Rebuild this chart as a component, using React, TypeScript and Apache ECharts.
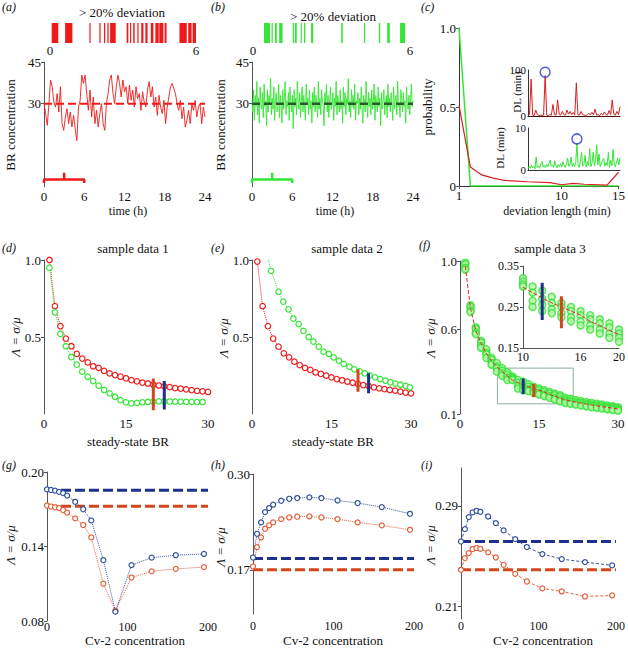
import { useEffect, useRef } from 'react';
import * as echarts from 'echarts';

const FONT = "'Liberation Serif', serif";

// ---------- (a) / (b) BR time series ----------
const timeSpanHours = 24;
const redBR = [
  30.0, 26.4, 22.2, 30.0, 38.5, 36.1, 30.6, 28.8, 33.6, 27.0,
  36.1, 22.8, 20.4, 25.2, 28.2, 22.8, 27.0, 21.6, 25.8, 21.0,
  16.7, 28.8, 31.2, 40.3, 37.3, 40.3, 33.6, 27.6, 34.9, 25.2,
  32.4, 22.8, 27.6, 21.6, 26.4, 30.0, 22.8, 20.4, 30.0, 33.6,
  38.5, 40.3, 33.6, 30.0, 36.1, 40.3, 37.3, 32.4, 38.5, 34.3,
  36.1, 30.0, 36.7, 31.2, 34.9, 28.8, 36.1, 31.8, 33.6, 27.6,
  34.3, 30.6, 28.8, 34.9, 37.9, 32.4, 36.1, 28.8, 32.4, 25.8,
  33.0, 28.8, 26.4, 31.2, 22.8, 28.8, 32.4, 36.1, 37.3, 35.5,
  33.6, 30.0, 27.6, 31.2, 24.6, 28.8, 21.6, 24.0, 27.6, 22.8,
  30.0, 27.6, 31.2, 25.2, 28.8, 30.0, 22.8, 28.8, 25.2,
];
const greenBR = [
  31, 27, 35, 24, 33, 29, 38, 26, 32, 23, 36, 30, 28, 34, 25, 37, 29, 31, 22, 35,
  27, 33, 30, 39, 26, 32, 28, 36, 24, 31, 34, 27, 29, 37, 25, 33, 30, 23, 35, 28,
  32, 38, 26, 31, 29, 34, 24, 36, 30, 27, 33, 21, 35, 29, 32, 26, 38, 30, 28, 34,
  25, 31, 36, 27, 33, 29, 24, 37, 30, 32, 26, 35, 28, 31, 23, 34, 29, 36, 27, 33,
  30, 25, 38, 28, 32, 26, 35, 31, 29, 22, 34, 30, 37, 27, 33, 25, 31, 36, 28, 30,
  34, 24, 32, 29, 38, 26, 33, 30, 27, 35, 28, 31, 23, 36, 29, 34, 26, 32, 30, 39,
  27, 31, 25, 35, 29, 33, 28, 37, 24, 31, 30, 34, 26, 32, 28, 36, 29, 23, 33, 31,
  27, 38, 30, 25, 34, 29, 32, 26, 35, 28, 31, 37, 24, 33, 30, 27, 36, 29, 32, 22,
  34, 28, 31, 35, 26, 30, 33, 25, 37, 29, 32, 27, 34, 30, 24, 36, 28, 31, 33, 26,
  38, 29, 30, 25, 35, 32, 27, 34, 29, 31, 23, 36, 30, 28, 33, 26, 32, 37, 29, 31,
];
const meanBR = 30;
// deviation episodes (> 20 %) within the first 6 h
const redDeviation = [
  [0.07, 0.34], [0.62, 0.92], [1.62, 1.65], [2.03, 2.08], [2.22, 2.27], [2.36, 2.41],
  [2.47, 2.7], [3.15, 3.22], [3.29, 3.34], [3.42, 3.48], [3.59, 3.63], [3.75, 3.84],
  [3.92, 4.01], [4.14, 4.25], [4.33, 4.47], [4.49, 4.66], [4.71, 4.79], [5.32, 5.62],
  [5.68, 5.82], [5.86, 6.0],
];
const greenDeviation = [
  [0.42, 0.65], [0.71, 0.75], [0.84, 0.91], [1.0, 1.13], [1.52, 1.55], [1.6, 1.67],
  [1.82, 1.86], [1.95, 2.0], [2.22, 2.3], [3.37, 3.43], [4.24, 4.28], [4.81, 4.86],
  [5.13, 5.23], [5.62, 5.81],
];
const windowBracket = [[0, 1.4], [0, 2.7], [3, 2.7], [3, 5.1], [3, 2.7], [6, 2.7], [6, 1.4]];

// ---------- (c) deviation length ----------
const devLenRedX = [1, 2, 3, 4, 5, 7, 9, 10, 11, 12, 14, 15];
const probRed = [0.51, 0.12, 0.07, 0.05, 0.035, 0.027, 0.021, 0.008, 0.017, 0.011, 0.006, 0.087];
const devLenGreenX = [1, 2, 15];
const probGreen = [1.0, 0, 0];
const dlRed = [
  2, 3, 80, 2, 1, 13, 3, 1, 2, 1, 2, 88, 2, 1, 3, 2, 25, 3, 2, 35,
  4, 2, 10, 3, 2, 13, 4, 10, 3, 8, 2, 72, 3, 2, 10, 3, 2, 1, 3, 6,
  2, 8, 3, 15, 2, 3, 1, 6, 2, 9, 3, 2, 12, 3, 35, 4, 2, 10, 3, 20,
];
const dlGreen = [
  0.3, 0.8, 0.4, 1.2, 0.5, 0.9, 0.3, 3.1, 0.6, 1.0, 0.4, 1.3, 2.0, 0.7, 1.1, 0.5, 1.4, 0.8, 1.6, 2.4,
  0.9, 1.2, 0.6, 2.2, 1.0, 0.5, 1.3, 0.8, 1.5, 0.7, 2.0, 1.1, 0.6, 1.4, 2.8, 0.9, 1.2, 3.1, 0.7, 1.5,
  0.8, 1.8, 6.4, 1.0, 0.6, 2.1, 4.2, 0.9, 1.3, 3.5, 0.7, 2.0, 1.1, 5.1, 0.8, 1.6, 4.3, 1.0, 2.2, 6.0,
  1.2, 3.8, 0.8, 1.5, 2.4, 2.8, 0.9, 1.7, 1.1, 4.2, 0.6, 2.3, 1.0, 4.9, 1.4, 0.8, 1.9, 2.8, 1.2, 2.9,
];
const dlRedCircle = [11, 95];
const dlGreenCircle = [42, 7.4];

// ---------- (d) sample data 1 ----------
const dRedX = [1, 2, 3, 4, 5, 6, 7, 8, 9, 10, 11, 12, 13, 14, 15, 16, 17, 18, 19, 20, 21, 22, 23, 24, 25, 26, 27, 28, 29, 30];
const dRed = [1.0, 0.7, 0.57, 0.49, 0.44, 0.39, 0.36, 0.335, 0.31, 0.3, 0.28, 0.264, 0.253, 0.242, 0.232, 0.22, 0.212, 0.204, 0.198, 0.19, 0.185, 0.18, 0.175, 0.168, 0.165, 0.16, 0.155, 0.15, 0.147, 0.143];
const dGreenX = [1, 2, 3, 4, 5, 6, 7, 8, 9, 10, 11, 12, 13, 14, 15, 16, 17, 18, 19, 20, 21, 22, 23, 24, 25, 26, 27, 28, 29];
const dGreen = [0.95, 0.66, 0.52, 0.44, 0.37, 0.32, 0.275, 0.242, 0.214, 0.184, 0.156, 0.134, 0.112, 0.09, 0.076, 0.069, 0.072, 0.076, 0.078, 0.08, 0.082, 0.082, 0.081, 0.08, 0.08, 0.079, 0.079, 0.078, 0.078];
const dMarkRed = [20, 0.025, 0.23];
const dMarkBlue = [22, 0.03, 0.215];

// ---------- (e) sample data 2 ----------
const eRedX = dRedX;
const eRed = [0.99, 0.7, 0.57, 0.49, 0.437, 0.394, 0.368, 0.34, 0.318, 0.3, 0.286, 0.27, 0.26, 0.249, 0.238, 0.227, 0.219, 0.21, 0.203, 0.195, 0.188, 0.182, 0.173, 0.167, 0.162, 0.156, 0.152, 0.145, 0.139, 0.134];
const eGreenStart = [3.1, 1.0];
const eGreenX = [3.6, 5.0, 5.9, 6.9, 7.8, 8.8, 9.7, 10.7, 11.6, 12.6, 13.5, 14.5, 15.4, 16.4, 17.3, 18.4, 19.3, 20.3, 21.3, 22.2, 23.2, 24.2, 25.2, 26.1, 27.1, 28.0, 29.0, 29.8];
const eGreen = [0.93, 0.794, 0.73, 0.68, 0.62, 0.584, 0.54, 0.5, 0.47, 0.437, 0.405, 0.39, 0.368, 0.346, 0.325, 0.307, 0.29, 0.277, 0.264, 0.251, 0.238, 0.227, 0.216, 0.206, 0.197, 0.19, 0.182, 0.173];
const eMarkRed = [20, 0.145, 0.29];
const eMarkBlue = [22, 0.134, 0.264];

// ---------- (f) sample data 3 ----------
const fX = dRedX;
const fRed = [0.97, 0.72, 0.59, 0.515, 0.457, 0.412, 0.378, 0.349, 0.325, 0.298, 0.285, 0.272, 0.26, 0.25, 0.24, 0.23, 0.215, 0.205, 0.193, 0.183, 0.176, 0.17, 0.164, 0.158, 0.153, 0.148, 0.143, 0.139, 0.134, 0.13];
const fGreen = [
  [0.99, 0.98, 0.96, 0.95], [0.74, 0.73, 0.71, 0.7], [0.61, 0.6, 0.58, 0.57], [0.53, 0.52, 0.5, 0.49],
  [0.48, 0.46, 0.45, 0.43], [0.43, 0.42, 0.4, 0.39], [0.4, 0.38, 0.37, 0.35], [0.37, 0.355, 0.34, 0.325],
  [0.345, 0.33, 0.315, 0.3], [0.32, 0.312, 0.305, 0.3], [0.3, 0.285, 0.265, 0.25], [0.29, 0.27, 0.255, 0.24],
  [0.275, 0.26, 0.245, 0.235], [0.26, 0.25, 0.235, 0.225], [0.25, 0.24, 0.225, 0.215], [0.24, 0.23, 0.215, 0.205],
  [0.23, 0.22, 0.205, 0.195], [0.22, 0.21, 0.195, 0.185], [0.21, 0.2, 0.185, 0.175], [0.195, 0.185, 0.175, 0.165],
  [0.19, 0.18, 0.17, 0.16], [0.182, 0.172, 0.163, 0.155], [0.176, 0.166, 0.157, 0.15], [0.17, 0.16, 0.152, 0.145],
  [0.165, 0.155, 0.147, 0.14], [0.16, 0.15, 0.142, 0.136], [0.155, 0.146, 0.138, 0.132], [0.15, 0.142, 0.134, 0.128],
  [0.146, 0.138, 0.13, 0.124], [0.14, 0.133, 0.126, 0.12],
];
const fMarkBlue = [12, 0.218, 0.309];
const fMarkRed = [14, 0.198, 0.276];
const fZoomBox = [[7.1, 0.16], [21.5, 0.16], [21.5, 0.37], [7.1, 0.37], [7.1, 0.16]];
const fInsetRange = [10, 20];

// ---------- (g)(h)(i) Cv-2 ----------
const cvX = [0, 5, 10, 15, 20, 25, 35, 45, 55, 70, 85, 105, 130, 160, 195];
const refX = [0, 200];
const gBlue = [0.186, 0.1855, 0.185, 0.184, 0.183, 0.181, 0.176, 0.17, 0.161, 0.129, 0.0875, 0.125, 0.131, 0.133, 0.134];
const gRed = [0.173, 0.1722, 0.1716, 0.171, 0.1694, 0.1673, 0.1627, 0.1573, 0.1473, 0.11, 0.0883, 0.115, 0.12, 0.122, 0.1234];
const gBlueRef = 0.1854;
const gRedRef = 0.1724;
const hBlue = [0.1867, 0.2189, 0.2343, 0.2483, 0.2538, 0.2583, 0.2637, 0.2664, 0.2674, 0.2683, 0.2674, 0.2641, 0.2606, 0.2551, 0.246];
const hRed = [0.1745, 0.2008, 0.2139, 0.2257, 0.2302, 0.2343, 0.2388, 0.241, 0.242, 0.2424, 0.241, 0.2388, 0.2343, 0.2302, 0.2243];
const hBlueRef = 0.1853;
const hRedRef = 0.17;
const iBlue = [0.2616, 0.2714, 0.281, 0.2847, 0.286, 0.2852, 0.2815, 0.2762, 0.2704, 0.2635, 0.2572, 0.2516, 0.2476, 0.2452, 0.2426];
const iRed = [0.2391, 0.2484, 0.2524, 0.2556, 0.2564, 0.2558, 0.2529, 0.2489, 0.2431, 0.2359, 0.2298, 0.2243, 0.2219, 0.2179, 0.2187];
const iBlueRef = 0.2616;
const iRedRef = 0.2391;

// ---------- colours ----------
const RED = '#ee1a1a';
const GREEN = '#33e633';
const NAVY = '#1e318a';
const ORANGE = '#d2481e';
const CV_BLUE = '#34529e';
const CV_RED = '#e2603c';

const zip = (xs: number[], ys: number[]) => xs.map((x, i) => [x, ys[i]]);
const series1D = (ys: number[]) => ys.map((y, i) => [(i * timeSpanHours) / (ys.length - 1), y]);

type AxOpt = {
  min: number; max: number; vals?: number[]; fmt?: (v: number) => string;
  line?: boolean; ticks?: boolean; show?: boolean; margin?: number; size?: number; lineColor?: string;
};
const mkAxis = (gi: number, o: AxOpt) => ({
  type: 'value', gridIndex: gi, min: o.min, max: o.max, show: o.show !== false,
  splitLine: { show: false },
  axisLine: { show: !!o.line, onZero: false, lineStyle: { color: o.lineColor || '#555', width: 1 } },
  axisTick: o.vals && o.ticks
    ? { show: true, customValues: o.vals, length: 3, lineStyle: { color: '#555' } }
    : { show: false },
  axisLabel: o.vals
    ? {
        show: true, customValues: o.vals, formatter: o.fmt || ((v: number) => String(v)),
        margin: o.margin ?? 3, fontFamily: FONT, fontSize: o.size || 13, color: '#111',
      }
    : { show: false },
});

const f1 = (v: number) => Number(v).toFixed(1);
const f2 = (v: number) => Number(v).toFixed(2);

const line = (gi: number, data: any[], color: string, o: any = {}) => ({
  type: 'line', xAxisIndex: gi, yAxisIndex: gi, data, silent: true, clip: true,
  symbol: o.symbol || 'none', showSymbol: !!o.symbol, symbolSize: o.size ?? 6,
  lineStyle: { color, width: o.width ?? 1, type: o.type ?? 'solid' },
  itemStyle: { color: o.fill ?? '#ffffff', borderColor: color, borderWidth: o.bw ?? 1.2 },
  z: o.z ?? 2,
});

const stripSeries = (gi: number, intervals: number[][], color: string) => ({
  type: 'custom', xAxisIndex: gi, yAxisIndex: gi, silent: true, data: intervals,
  encode: { x: [0, 1] },
  renderItem: (_p: any, api: any) => {
    const a = api.coord([api.value(0), 1]);
    const b = api.coord([api.value(1), 0]);
    return {
      type: 'rect',
      shape: { x: a[0], y: a[1], width: Math.max(b[0] - a[0], 1.2), height: b[1] - a[1] },
      style: { fill: color },
    };
  },
});

const vbar = (gi: number, m: number[], color: string) => line(gi, [[m[0], m[1]], [m[0], m[2]]], color, { width: 3, z: 5 });

const txt = (text: string, x: number, y: number, o: any = {}) => ({
  type: 'text', x, y, rotation: o.rot ? Math.PI / 2 : 0, silent: true,
  style: {
    text, fontFamily: FONT, fontSize: o.size || 13, fontStyle: o.italic ? 'italic' : 'normal',
    fill: '#111', align: o.align || 'center', verticalAlign: 'middle',
    textAlign: o.align || 'center', textVerticalAlign: 'middle',
  },
});

export default function App() {
  const ref = useRef<HTMLDivElement>(null);
  useEffect(() => {
    if (!ref.current) return;
    const chart = echarts.init(ref.current, undefined, { renderer: 'svg' });

    const grids = [
      { left: 50, top: 23, width: 146, height: 20 }, // 0 a strip
      { left: 44, top: 62, width: 161, height: 125 }, // 1 a
      { left: 253, top: 23, width: 157, height: 20 }, // 2 b strip
      { left: 252, top: 62, width: 161, height: 125 }, // 3 b
      { left: 459, top: 28, width: 161, height: 158 }, // 4 c
      { left: 528, top: 70, width: 92, height: 46 }, // 5 c inset top
      { left: 528, top: 128, width: 92, height: 42 }, // 6 c inset bottom
      { left: 44, top: 260, width: 164, height: 154 }, // 7 d
      { left: 252, top: 260, width: 159, height: 154 }, // 8 e
      { left: 460, top: 261, width: 158, height: 153 }, // 9 f
      { left: 523, top: 266, width: 98, height: 82 }, // 10 f inset
      { left: 47, top: 472, width: 161, height: 149 }, // 11 g
      { left: 253, top: 474, width: 161, height: 140 }, // 12 h
      { left: 461, top: 468, width: 155, height: 151 }, // 13 i
    ];

    const xAxis = [
      mkAxis(0, { min: 0, max: 6, vals: [0, 6], margin: 1 }),
      mkAxis(1, { min: 0, max: 24, vals: [0, 6, 12, 18, 24] }),
      mkAxis(2, { min: 0, max: 6, vals: [0, 6], margin: 1 }),
      mkAxis(3, { min: 0, max: 24, vals: [0, 6, 12, 18, 24] }),
      mkAxis(4, { min: 1, max: 15, vals: [1, 10, 15], line: true, lineColor: '#333', ticks: true }),
      mkAxis(5, { min: 0, max: dlRed.length - 1, line: true, lineColor: '#4a1010' }),
      mkAxis(6, { min: 0, max: dlGreen.length - 1, line: true, lineColor: '#333' }),
      mkAxis(7, { min: 0, max: 30, vals: [0, 15, 30] }),
      mkAxis(8, { min: 0, max: 30, vals: [0, 15, 30] }),
      mkAxis(9, { min: 0, max: 30, vals: [0, 15, 30] }),
      mkAxis(10, { min: fInsetRange[0], max: fInsetRange[1], vals: [10, 16, 20], line: true, margin: 3, size: 12 }),
      mkAxis(11, { min: 0, max: 200, vals: [0, 100, 200], margin: 0, size: 12 }),
      mkAxis(12, { min: 0, max: 200, vals: [0, 100, 200], margin: 6, size: 12 }),
      mkAxis(13, { min: 0, max: 200, vals: [0, 100, 200], margin: 1, size: 12 }),
    ];
    const yAxis = [
      mkAxis(0, { min: 0, max: 1, show: false }),
      mkAxis(1, { min: 0, max: 45, vals: [30, 45], line: true, ticks: true }),
      mkAxis(2, { min: 0, max: 1, show: false }),
      mkAxis(3, { min: 0, max: 45, vals: [30, 45], line: true, ticks: true }),
      mkAxis(4, { min: 0, max: 1, vals: [0, 0.5, 1], fmt: (v) => (v === 0 ? '0' : f1(v)), line: true, lineColor: '#333', ticks: true }),
      mkAxis(5, { min: 0, max: 100, vals: [0, 100], line: true, lineColor: '#333', margin: 2, size: 11 }),
      mkAxis(6, { min: 0, max: 10, vals: [0, 10], line: true, lineColor: '#333', margin: 2, size: 11 }),
      mkAxis(7, { min: 0, max: 1, vals: [0.5, 1], fmt: f1, line: true, ticks: true }),
      mkAxis(8, { min: 0, max: 1, vals: [0.5, 1], fmt: f1, line: true, ticks: true }),
      mkAxis(9, { min: 0.1, max: 1, vals: [0.1, 0.6, 1], fmt: f1, line: true, ticks: true }),
      mkAxis(10, { min: 0.15, max: 0.35, vals: [0.15, 0.25, 0.35], fmt: f2, line: true, ticks: true, size: 12, margin: 4 }),
      mkAxis(11, { min: 0.08, max: 0.2, vals: [0.08, 0.14, 0.2], fmt: f2, line: true, ticks: true }),
      mkAxis(12, { min: 0.11, max: 0.3, vals: [0.17, 0.3], fmt: f2, line: true, ticks: true }),
      mkAxis(13, { min: 0.2, max: 0.32, vals: [0.21, 0.29], fmt: f2, line: true, ticks: true }),
    ];

    const fGreenPts: number[][] = [];
    fGreen.forEach((grp, i) => grp.forEach((v) => fGreenPts.push([fX[i], v])));
    const inInset = (p: number[]) => p[0] >= fInsetRange[0] - 0.01 && p[0] <= fInsetRange[1] + 0.01;
    const fRedPts = zip(fX, fRed);

    const greenScatter = (gi: number, data: number[][]) => ({
      type: 'scatter', xAxisIndex: gi, yAxisIndex: gi, data, silent: true, clip: true,
      symbol: 'circle', symbolSize: 7,
      itemStyle: { color: '#b4f7a8', borderColor: '#35e035', borderWidth: 1.5 },
      z: 3,
    });

    const circleMark = (gi: number, p: number[]) => ({
      type: 'scatter', xAxisIndex: gi, yAxisIndex: gi, data: [p], silent: true, clip: false,
      symbol: 'circle', symbolSize: 10,
      itemStyle: { color: 'rgba(0,0,0,0)', borderColor: '#2a36d8', borderWidth: 1.5 },
      z: 6,
    });

    const series: any[] = [
      // (a)
      stripSeries(0, redDeviation, RED),
      line(1, series1D(redBR), RED, { width: 0.9 }),
      line(1, [[0, meanBR], [timeSpanHours, meanBR]], RED, { width: 2, type: [8, 4], z: 4 }),
      line(1, windowBracket, RED, { width: 2.5 }),
      // (b)
      stripSeries(2, greenDeviation, GREEN),
      line(3, series1D(greenBR), GREEN, { width: 0.9 }),
      line(3, [[0, meanBR], [timeSpanHours, meanBR]], '#2c5a2c', { width: 2.5, type: [8, 4], z: 4 }),
      line(3, windowBracket, GREEN, { width: 2.5 }),
      // (c)
      line(4, zip(devLenGreenX, probGreen), GREEN, { width: 1.5 }),
      line(4, zip(devLenRedX, probRed), '#d42020', { width: 1.2 }),
      line(5, dlRed.map((v, i) => [i, v]), '#d42020', { width: 1 }),
      line(6, dlGreen.map((v, i) => [i, v]), GREEN, { width: 1 }),
      circleMark(5, dlRedCircle),
      circleMark(6, dlGreenCircle),
      // (d)
      line(7, zip(dRedX, dRed), RED, { symbol: 'circle', size: 5.5, type: 'dotted' }),
      line(7, zip(dGreenX, dGreen), GREEN, { symbol: 'circle', size: 5.5, type: 'dotted' }),
      vbar(7, dMarkRed, ORANGE),
      vbar(7, dMarkBlue, NAVY),
      // (e)
      line(8, zip(eRedX, eRed), RED, { symbol: 'circle', size: 5.5, type: 'dotted' }),
      line(8, [{ value: eGreenStart, symbol: 'none' }, ...zip(eGreenX, eGreen)], GREEN, { symbol: 'circle', size: 5.5, type: 'dotted' }),
      vbar(8, eMarkRed, ORANGE),
      vbar(8, eMarkBlue, NAVY),
      // (f)
      greenScatter(9, fGreenPts),
      line(9, fRedPts, '#e02a20', { width: 1, type: 'dashed', z: 4 }),
      line(9, fZoomBox, '#8fae9f', { width: 1 }),
      vbar(9, fMarkBlue, NAVY),
      vbar(9, fMarkRed, ORANGE),
      greenScatter(10, fGreenPts.filter(inInset)),
      line(10, fRedPts.filter(inInset), '#e02a20', { width: 1, type: 'dashed', z: 4 }),
      vbar(10, fMarkBlue, NAVY),
      vbar(10, fMarkRed, ORANGE),
      // (g)
      line(11, [[refX[0], gBlueRef], [refX[1], gBlueRef]], NAVY, { width: 3, type: [10, 4] }),
      line(11, [[refX[0], gRedRef], [refX[1], gRedRef]], ORANGE, { width: 3, type: [10, 4] }),
      line(11, zip(cvX, gRed), CV_RED, { symbol: 'circle', size: 5, type: 'dotted', z: 3 }),
      line(11, zip(cvX, gBlue), CV_BLUE, { symbol: 'circle', size: 5, type: 'dotted', z: 3 }),
      // (h)
      line(12, [[refX[0], hBlueRef], [refX[1], hBlueRef]], NAVY, { width: 3, type: [10, 4] }),
      line(12, [[refX[0], hRedRef], [refX[1], hRedRef]], ORANGE, { width: 3, type: [10, 4] }),
      line(12, zip(cvX, hRed), CV_RED, { symbol: 'circle', size: 5, type: 'dotted', z: 3 }),
      line(12, zip(cvX, hBlue), CV_BLUE, { symbol: 'circle', size: 5, type: 'dotted', z: 3 }),
      // (i)
      line(13, [[refX[0], iBlueRef], [refX[1], iBlueRef]], NAVY, { width: 3, type: [10, 4] }),
      line(13, [[refX[0], iRedRef], [refX[1], iRedRef]], ORANGE, { width: 3, type: [10, 4] }),
      line(13, zip(cvX, iRed), CV_RED, { symbol: 'circle', size: 5, type: [3, 2], z: 3 }),
      line(13, zip(cvX, iBlue), CV_BLUE, { symbol: 'circle', size: 5, type: [3, 2], z: 3 }),
    ];

    const lam = 'Λ = σ/μ';
    const graphic = [
      txt('(a)', 2, 7, { align: 'left', italic: true, size: 12 }),
      txt('> 20% deviation', 122, 12),
      txt('BR concentration', 10, 125, { rot: true }),
      txt('time (h)', 128, 211, { size: 12 }),
      txt('(b)', 211, 7, { align: 'left', italic: true, size: 12 }),
      txt('> 20% deviation', 333, 16),
      txt('BR concentration', 220, 125, { rot: true }),
      txt('time (h)', 335, 211, { size: 12 }),
      txt('(c)', 421, 7, { align: 'left', italic: true, size: 12 }),
      txt('probability', 427, 107, { rot: true }),
      txt('DL (min)', 517, 92, { rot: true, size: 11 }),
      txt('DL (min)', 500, 148, { rot: true, size: 11 }),
      txt('deviation length (min)', 557, 211, { size: 12 }),
      txt('(d)', 2, 248, { align: 'left', italic: true, size: 12 }),
      txt('sample data 1', 133, 248),
      txt(lam, 15, 337, { rot: true, italic: true }),
      txt('steady-state BR', 128, 441),
      txt('(e)', 211, 248, { align: 'left', italic: true, size: 12 }),
      txt('sample data 2', 347, 248),
      txt(lam, 223, 338, { rot: true, italic: true }),
      txt('steady-state BR', 333, 441),
      txt('(f)', 419, 245, { align: 'left', italic: true, size: 12 }),
      txt('sample data 3', 550, 248),
      txt(lam, 430, 338, { rot: true, italic: true }),
      txt('(g)', 2, 465, { align: 'left', italic: true, size: 12 }),
      txt(lam, 10, 545, { rot: true, italic: true }),
      txt('Cv-2 concentration', 135, 640),
      txt('(h)', 211, 465, { align: 'left', italic: true, size: 12 }),
      txt(lam, 220, 547, { rot: true, italic: true }),
      txt('Cv-2 concentration', 333, 640),
      txt('(i)', 421, 465, { align: 'left', italic: true, size: 12 }),
      txt(lam, 430, 545, { rot: true, italic: true }),
      txt('Cv-2 concentration', 543, 640),
    ];

    chart.setOption({
      animation: false,
      backgroundColor: '#ffffff',
      textStyle: { fontFamily: FONT },
      grid: grids,
      xAxis,
      yAxis,
      series,
      graphic,
    });
    return () => chart.dispose();
  }, []);

  return (
    <div
      ref={ref}
      style={{ position: 'fixed', left: 0, top: 0, width: 628, height: 652, background: '#fff' }}
    />
  );
}
